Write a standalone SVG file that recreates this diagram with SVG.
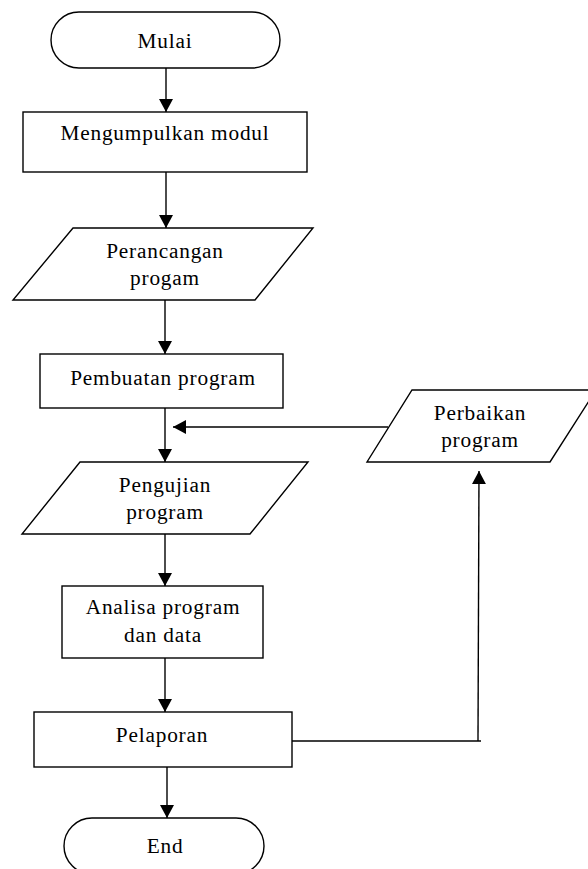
<svg xmlns="http://www.w3.org/2000/svg" width="588" height="869" viewBox="0 0 588 869">
<style>
.s{fill:#fff;stroke:#000;stroke-width:1.4}
.t{font-family:'Liberation Serif','Times New Roman',serif;font-size:21.3px;letter-spacing:0.8px;text-anchor:middle;fill:#000}
.c{fill:none;stroke:#000;stroke-width:1.4}
</style>
<defs>
<marker id="ah" markerUnits="userSpaceOnUse" markerWidth="14" markerHeight="14" refX="13" refY="7" orient="auto">
<path d="M0,0 L13,7 L0,14 z" fill="#000"/>
</marker>
</defs>
<rect width="588" height="869" fill="#fff"/>
<g id="connectors">
<line class="c" x1="166" y1="68" x2="166" y2="112" marker-end="url(#ah)"/>
<line class="c" x1="166" y1="172" x2="166" y2="228" marker-end="url(#ah)"/>
<line class="c" x1="165" y1="300" x2="165" y2="354" marker-end="url(#ah)"/>
<line class="c" x1="165" y1="408" x2="165" y2="462" marker-end="url(#ah)"/>
<line class="c" x1="388" y1="427" x2="173" y2="427" marker-end="url(#ah)"/>
<line class="c" x1="165" y1="534" x2="165" y2="586" marker-end="url(#ah)"/>
<line class="c" x1="165" y1="658" x2="165" y2="712" marker-end="url(#ah)"/>
<line class="c" x1="292" y1="741" x2="481" y2="741"/>
<line class="c" x1="478" y1="741" x2="479" y2="471" marker-end="url(#ah)"/>
<line class="c" x1="167" y1="767" x2="167" y2="818" marker-end="url(#ah)"/>
</g>
<g id="mulai">
<rect class="s" x="51" y="12" width="229" height="56" rx="28"/>
<text class="t" x="165" y="48">Mulai</text>
</g>
<g id="mengumpulkan">
<rect class="s" x="23" y="112" width="284" height="60"/>
<text class="t" x="165" y="140">Mengumpulkan modul</text>
</g>
<g id="perancangan">
<polygon class="s" points="73,228 313,228 255,300 13,300"/>
<text class="t" x="165" y="258">Perancangan</text>
<text class="t" x="165" y="285">progam</text>
</g>
<g id="pembuatan">
<rect class="s" x="40" y="354" width="243" height="54"/>
<text class="t" x="163" y="385">Pembuatan program</text>
</g>
<g id="perbaikan">
<polygon class="s" points="412,390 596,390 550,462 367,462"/>
<text class="t" x="480" y="420">Perbaikan</text>
<text class="t" x="480" y="447">program</text>
</g>
<g id="pengujian">
<polygon class="s" points="80,462 308,462 250,534 22,534"/>
<text class="t" x="165" y="492">Pengujian</text>
<text class="t" x="165" y="519">program</text>
</g>
<g id="analisa">
<rect class="s" x="62" y="586" width="201" height="72"/>
<text class="t" x="163" y="614">Analisa program</text>
<text class="t" x="163" y="642">dan data</text>
</g>
<g id="pelaporan">
<rect class="s" x="34" y="712" width="258" height="55"/>
<text class="t" x="162" y="742">Pelaporan</text>
</g>
<g id="end">
<rect class="s" x="64" y="818" width="200" height="56" rx="28"/>
<text class="t" x="165" y="853">End</text>
</g>
</svg>
